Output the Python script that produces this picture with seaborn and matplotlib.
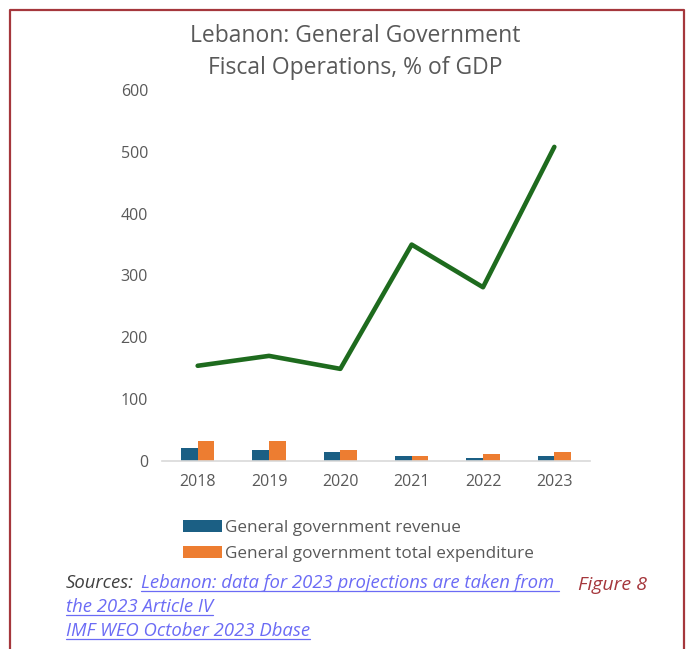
import matplotlib
matplotlib.use("Agg")
import matplotlib.pyplot as plt
from matplotlib.patches import Patch
from matplotlib.lines import Line2D
import seaborn as sns
import pandas as pd

years = ["2018", "2019", "2020", "2021", "2022", "2023"]
revenue = [21.5, 18.5, 15.0, 8.5, 5.0, 8.5]
expenditure = [32.0, 32.0, 18.5, 8.0, 12.0, 15.0]
gross_debt = [154, 170, 149, 350, 281, 508]

rev_label = "General government revenue"
exp_label = "General government total expenditure"

sns.set_theme(style="white")
plt.rcParams["font.family"] = ["Open Sans", "DejaVu Sans"]

GREY = "#595959"
BLUE = "#1B5F84"
ORANGE = "#ED7D31"
GREEN = "#1E6B1E"
FRAME = "#A5373C"
LINK = "#6B6BF5"

bars = pd.DataFrame({
    "year": years * 2,
    "value": revenue + expenditure,
    "series": [rev_label] * len(years) + [exp_label] * len(years),
})
debt = pd.DataFrame({"year": years, "value": gross_debt})

fig = plt.figure(figsize=(6.88, 6.49), dpi=100)
ax = fig.add_axes([162 / 688, 1 - 461 / 649, (590 - 162) / 688, (461 - 90) / 649])

sns.barplot(data=bars, x="year", y="value", hue="series", order=years,
            hue_order=[rev_label, exp_label], palette=[BLUE, ORANGE],
            width=0.47, gap=0, saturation=1, ax=ax, legend=False, linewidth=0)
sns.lineplot(data=debt, x="year", y="value", color=GREEN, linewidth=3.3,
             ax=ax, legend=False)

ax.set_xlim(-0.5, 5.5)
ax.set_ylim(0, 600)
ax.set_yticks(range(0, 601, 100))
ax.set_xlabel("")
ax.set_ylabel("")
for s in ["top", "right", "left"]:
    ax.spines[s].set_visible(False)
ax.spines["bottom"].set_color("#D9D9D9")
ax.spines["bottom"].set_linewidth(1.2)
ax.tick_params(axis="both", length=0, labelsize=11.5, colors=GREY)
ax.tick_params(axis="y", pad=10)
ax.tick_params(axis="x", pad=9)

fig.text(355 / 688, 1 - 36 / 649, "Lebanon: General Government",
         ha="center", va="center", fontsize=16.5, color=GREY)
fig.text(355 / 688, 1 - 68 / 649, "Fiscal Operations, % of GDP",
         ha="center", va="center", fontsize=16.5, color=GREY)

handles = [Patch(facecolor=BLUE, edgecolor="none", label=rev_label),
           Patch(facecolor=ORANGE, edgecolor="none", label=exp_label)]
fig.legend(handles=handles, loc="upper left",
           bbox_to_anchor=(174 / 688, 1 - 511 / 649), frameon=False,
           fontsize=12.3, handlelength=2.3, handleheight=0.7,
           handletextpad=0.2, labelspacing=0.6, borderpad=0,
           labelcolor=GREY)

fig.text(66 / 688, 1 - 583 / 649, "Sources:", ha="left", va="center",
         fontsize=13.3, style="italic", color="#404040")
links = [
    fig.text(141 / 688, 1 - 583 / 649,
             "Lebanon: data for 2023 projections are taken from ",
             ha="left", va="center", fontsize=13.3, style="italic", color=LINK),
    fig.text(66 / 688, 1 - 607 / 649, "the 2023 Article IV",
             ha="left", va="center", fontsize=13.3, style="italic", color=LINK),
    fig.text(66 / 688, 1 - 631 / 649, "IMF WEO October 2023 Dbase",
             ha="left", va="center", fontsize=13.3, style="italic", color=LINK),
]
fig.text(578 / 688, 1 - 585 / 649, "Figure 8", ha="left", va="center",
         fontsize=14, style="italic", color=FRAME)

# underline the hyperlinks
fig.canvas.draw()
renderer = fig.canvas.get_renderer()
inv = fig.transFigure.inverted()
for t in links:
    bb = t.get_window_extent(renderer)
    (x0, y0), (x1, _) = inv.transform([(bb.x0, bb.y0 + 1), (bb.x1, bb.y0)])
    fig.add_artist(Line2D([x0, x1], [y0, y0], transform=fig.transFigure,
                          color=LINK, linewidth=0.9))

# outer frame (left, top, right)
fx0, fx1, fy = 9.5 / 688, 683.5 / 688, 1 - 9.5 / 649
fig.add_artist(Line2D([fx0, fx0, fx1, fx1], [0, fy, fy, 0],
                      transform=fig.transFigure, color=FRAME, linewidth=1.6))

fig.savefig("out.png", dpi=100)
